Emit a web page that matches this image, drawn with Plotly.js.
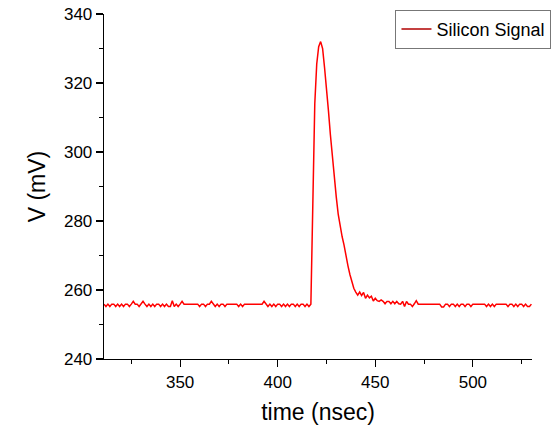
<!DOCTYPE html>
<html>
<head>
<meta charset="utf-8">
<script src="https://cdn.plot.ly/plotly-3.0.1.min.js"></script>
<style>html,body{margin:0;padding:0;background:#fff;}#chart{width:559px;height:430px;}</style>
</head>
<body>
<div id="chart"></div>
<script>
const timeNs = [311,312,313,314,315,316,317,318,319,320,321,322,323,324,325,326,327,328,329,330,
331,332,333,334,335,336,337,338,339,340,341,342,343,344,345,346,347,348,349,350,
351,352,353,354,355,356,357,358,359,360,361,362,363,364,365,366,367,368,369,370,
371,372,373,374,375,376,377,378,379,380,381,382,383,384,385,386,387,388,389,390,
391,392,393,394,395,396,397,398,399,400,401,402,403,404,405,406,407,408,409,410,
411,412,413,414,415,416,417,418,419,420,421,422,423,424,425,426,427,428,429,430,
431,432,433,434,435,436,437,438,439,440,441,442,443,444,445,446,447,448,449,450,
451,452,453,454,455,456,457,458,459,460,461,462,463,464,465,466,467,468,469,470,
471,472,473,474,475,476,477,478,479,480,481,482,483,484,485,486,487,488,489,490,
491,492,493,494,495,496,497,498,499,500,501,502,503,504,505,506,507,508,509,510,
511,512,513,514,515,516,517,518,519,520,521,522,523,524,525,526,527,528,529,530];
const voltageMv = [255.9,255.2,255.9,255.2,255.9,255.9,255.2,255.9,255.2,255.9,255.2,255.9,255.9,255.2,255.9,256.7,255.9,255.9,255.2,255.9,
256.7,255.9,255.2,255.9,255.2,255.9,255.2,255.9,255.9,255.2,255.9,255.2,255.9,255.2,255.2,256.9,255.2,255.9,255.2,255.9,
256.7,255.9,255.9,255.9,255.9,255.9,255.9,255.9,255.9,255.2,255.9,255.9,255.2,255.9,255.9,256.7,255.9,255.2,255.9,255.2,
255.9,255.9,255.2,255.9,255.9,255.9,255.9,255.9,255.9,255.2,255.9,255.2,255.9,255.9,255.9,255.9,255.9,255.9,255.9,255.9,
255.9,255.9,256.7,255.9,255.2,255.9,255.2,255.9,255.2,255.9,255.9,255.2,255.9,255.2,255.9,255.2,255.9,255.9,255.2,255.9,
255.2,255.9,255.9,255.2,255.9,255.2,255.9,285.0,314.0,325.5,330.5,332.0,330.0,324.5,319.0,312.0,305.0,298.5,292.5,287.0,
282.0,278.3,275.5,273.0,269.5,267.0,264.5,262.5,260.5,259.4,258.5,259.4,258.4,259.3,257.6,258.5,257.7,258.2,256.8,257.6,
256.9,256.7,257.1,256.7,256.0,256.7,256.7,256.0,256.7,256.0,256.7,256.0,255.9,256.7,255.2,256.7,255.9,255.9,255.2,256.0,
256.9,255.9,255.9,255.9,255.9,255.9,255.9,255.9,255.9,255.9,255.9,255.9,255.9,255.1,255.1,255.9,255.9,255.2,255.9,255.9,
255.2,255.9,255.2,255.9,255.9,255.2,255.9,255.9,255.2,255.9,255.9,255.9,255.9,255.9,255.9,255.9,255.2,255.9,255.2,255.9,
255.2,255.9,255.9,255.9,255.9,255.9,255.9,255.2,255.9,255.9,255.2,255.9,255.2,255.9,255.9,255.2,255.9,255.2,255.2,255.9];
const seriesName = 'Silicon Signal';
const xTitle = 'time (nsec)';
const yTitle = 'V (mV)';

const font = 'Liberation Sans, Arial, sans-serif';
const traces = [
  {x: timeNs, y: voltageMv, type: 'scatter', mode: 'lines',
   line: {color: '#ff0000', width: 1.5}, showlegend: false, hoverinfo: 'skip'},
  {x: [null], y: [null], type: 'scatter', mode: 'lines', name: seriesName,
   line: {color: '#b00000', width: 1.5}, showlegend: true}
];
const layout = {
  width: 559, height: 430,
  margin: {l: 104, r: 27, t: 14, b: 71, autoexpand: false},
  paper_bgcolor: '#fff', plot_bgcolor: '#fff',
  font: {family: font, color: '#000', size: 17},
  xaxis: {
    range: [311, 530.3], showgrid: false, zeroline: false,
    showline: true, linecolor: '#000', linewidth: 1.3,
    ticks: 'outside', ticklen: 7, tickwidth: 1.2, tickcolor: '#000',
    tick0: 350, dtick: 50,
    minor: {ticks: 'outside', ticklen: 4, tickwidth: 1, tickcolor: '#000', dtick: 25, tick0: 325, showgrid: false},
    tickfont: {family: font, size: 17, color: '#000'},
    title: {text: xTitle, font: {family: font, size: 23, color: '#000'}, standoff: 13}
  },
  yaxis: {
    range: [240, 340], showgrid: false, zeroline: false,
    showline: true, linecolor: '#000', linewidth: 1.3,
    ticks: 'outside', ticklen: 7, tickwidth: 1.2, tickcolor: '#000',
    tick0: 240, dtick: 20,
    minor: {ticks: 'outside', ticklen: 4, tickwidth: 1, tickcolor: '#000', dtick: 10, showgrid: false},
    tickfont: {family: font, size: 17, color: '#000'},
    title: {text: yTitle, font: {family: font, size: 23, color: '#000'}, standoff: 12}
  },
  legend: {
    x: 0.681, xanchor: 'left', y: 1.012, yanchor: 'top',
    bgcolor: '#fff', bordercolor: '#777', borderwidth: 1,
    font: {family: font, size: 18, color: '#000'},
    itemwidth: 30, tracegroupgap: 0
  }
};
Plotly.newPlot('chart', traces, layout, {staticPlot: true, displayModeBar: false});
</script>
</body>
</html>
